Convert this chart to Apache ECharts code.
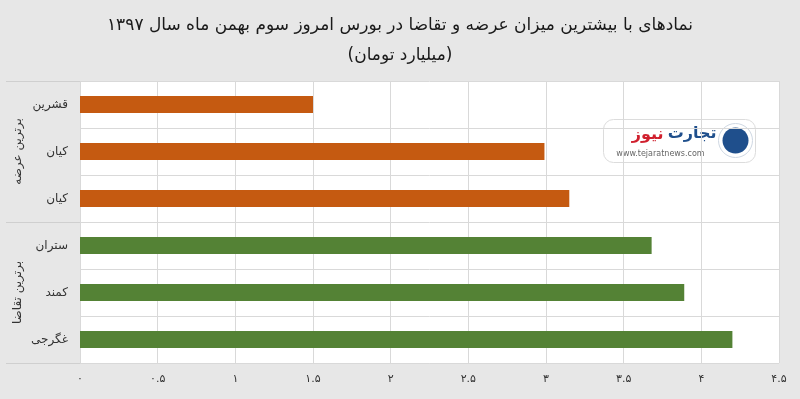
<!DOCTYPE html>
<html>
<head>
<meta charset="utf-8">
<script src="https://cdn.jsdelivr.net/npm/echarts@6/dist/echarts.min.js"></script>
<style>
  html, body { margin: 0; padding: 0; background: #e7e7e7; }
  #main { width: 800px; height: 399px; }
</style>
</head>
<body>
<div id="main"></div>
<script>
// نمادها از بالا به پایین
var categories = ['قشرین', 'کیان', 'کیان', 'ستران', 'کمند', 'غگرجی'];
var groupNames = ['برترین عرضه', 'برترین تقاضا'];
// میلیارد تومان
var supplyValues = [1.5, 2.99, 3.15, '-', '-', '-'];
var demandValues = ['-', '-', '-', 3.68, 3.89, 4.2];
var xTicks = [0, 4.5, 0.5]; // min, max, interval

var fontFa = '"DejaVu Sans", sans-serif';
var faDigits = '۰۱۲۳۴۵۶۷۸۹';
function toFa(v) {
  return String(v).replace(/[0-9]/g, function (d) { return faDigits[+d]; });
}

var chart = echarts.init(document.getElementById('main'));
var logo = {
  type: 'group',
  left: 603, top: 119,
  children: [
    { type: 'rect', shape: { x: 0, y: 0, width: 152, height: 43, r: 10 },
      style: { fill: '#ffffff', stroke: '#dcdcdc', lineWidth: 1 } },
    { type: 'circle', shape: { cx: 132, cy: 21, r: 17 },
      style: { fill: '#ffffff', stroke: '#cfd8e3', lineWidth: 1 } },
    { type: 'circle', shape: { cx: 132, cy: 21, r: 13 },
      style: { fill: '#1f4f8c' } },
    { type: 'text', x: 113, y: 14,
      style: { text: 'تجارت', font: 'bold 16px ' + fontFa, fill: '#1f4f8c', align: 'right', verticalAlign: 'middle' } },
    { type: 'text', x: 60, y: 15,
      style: { text: 'نیوز', font: 'bold 16px ' + fontFa, fill: '#d0202e', align: 'right', verticalAlign: 'middle' } },
    { type: 'text', x: 57, y: 34,
      style: { text: 'www.tejaratnews.com', font: '8px ' + fontFa, fill: '#666', align: 'center', verticalAlign: 'middle' } }
  ]
};
var option = {
  backgroundColor: '#e7e7e7',
  textStyle: { fontFamily: fontFa },
  title: {
    text: 'نمادهای با بیشترین میزان عرضه و تقاضا در بورس امروز سوم بهمن ماه سال ۱۳۹۷\n(میلیارد تومان)',
    left: 'center',
    top: 6,
    textStyle: { fontFamily: fontFa, fontSize: 17, fontWeight: 'normal', color: '#1a1a1a', lineHeight: 30 }
  },
  grid: {
    left: 80, right: 21, top: 81, bottom: 36,
    show: true, backgroundColor: '#ffffff', borderWidth: 0
  },
  xAxis: {
    type: 'value',
    min: xTicks[0], max: xTicks[1], interval: xTicks[2],
    axisLine: { show: false },
    axisTick: { show: false },
    splitLine: { lineStyle: { color: '#d9d9d9', width: 1 } },
    axisLabel: {
      color: '#333', fontSize: 11, margin: 11, fontFamily: fontFa,
      formatter: function (v) { return toFa(v); }
    }
  },
  yAxis: [{
    type: 'category',
    data: categories,
    inverse: true,
    axisLine: { show: false },
    axisTick: { show: false },
    splitLine: { show: true, lineStyle: { color: '#d9d9d9', width: 1 } },
    axisLabel: { color: '#333', fontSize: 12, margin: 12, fontFamily: fontFa }
  }, {
    // گروه‌ها: فقط خط جداکننده، برچسب‌ها با graphic
    type: 'category',
    data: groupNames,
    inverse: true,
    position: 'left',
    axisLine: { show: false },
    axisTick: { show: true, length: 74, lineStyle: { color: '#cfcfcf' } },
    axisLabel: { show: false }
  }],
  graphic: [logo],
  series: [{
    name: 'برترین عرضه',
    type: 'bar',
    data: supplyValues,
    barWidth: 17,
    barGap: '-100%',
    itemStyle: { color: '#c55a11' }
  }, {
    name: 'برترین تقاضا',
    type: 'bar',
    data: demandValues,
    barWidth: 17,
    barGap: '-100%',
    itemStyle: { color: '#548235' }
  }]
};
chart.setOption(option);

// برچسب گروه‌ها عمودی، وسط هر گروه
var groupLabels = groupNames.map(function (name) {
  var y = chart.convertToPixel({ yAxisIndex: 1 }, name);
  return {
    type: 'text',
    x: 18, y: y,
    rotation: Math.PI / 2,
    style: { text: name, font: '12px ' + fontFa, fill: '#333', align: 'center', verticalAlign: 'middle' }
  };
});
chart.setOption({ graphic: [logo].concat(groupLabels) });
</script>
</body>
</html>
